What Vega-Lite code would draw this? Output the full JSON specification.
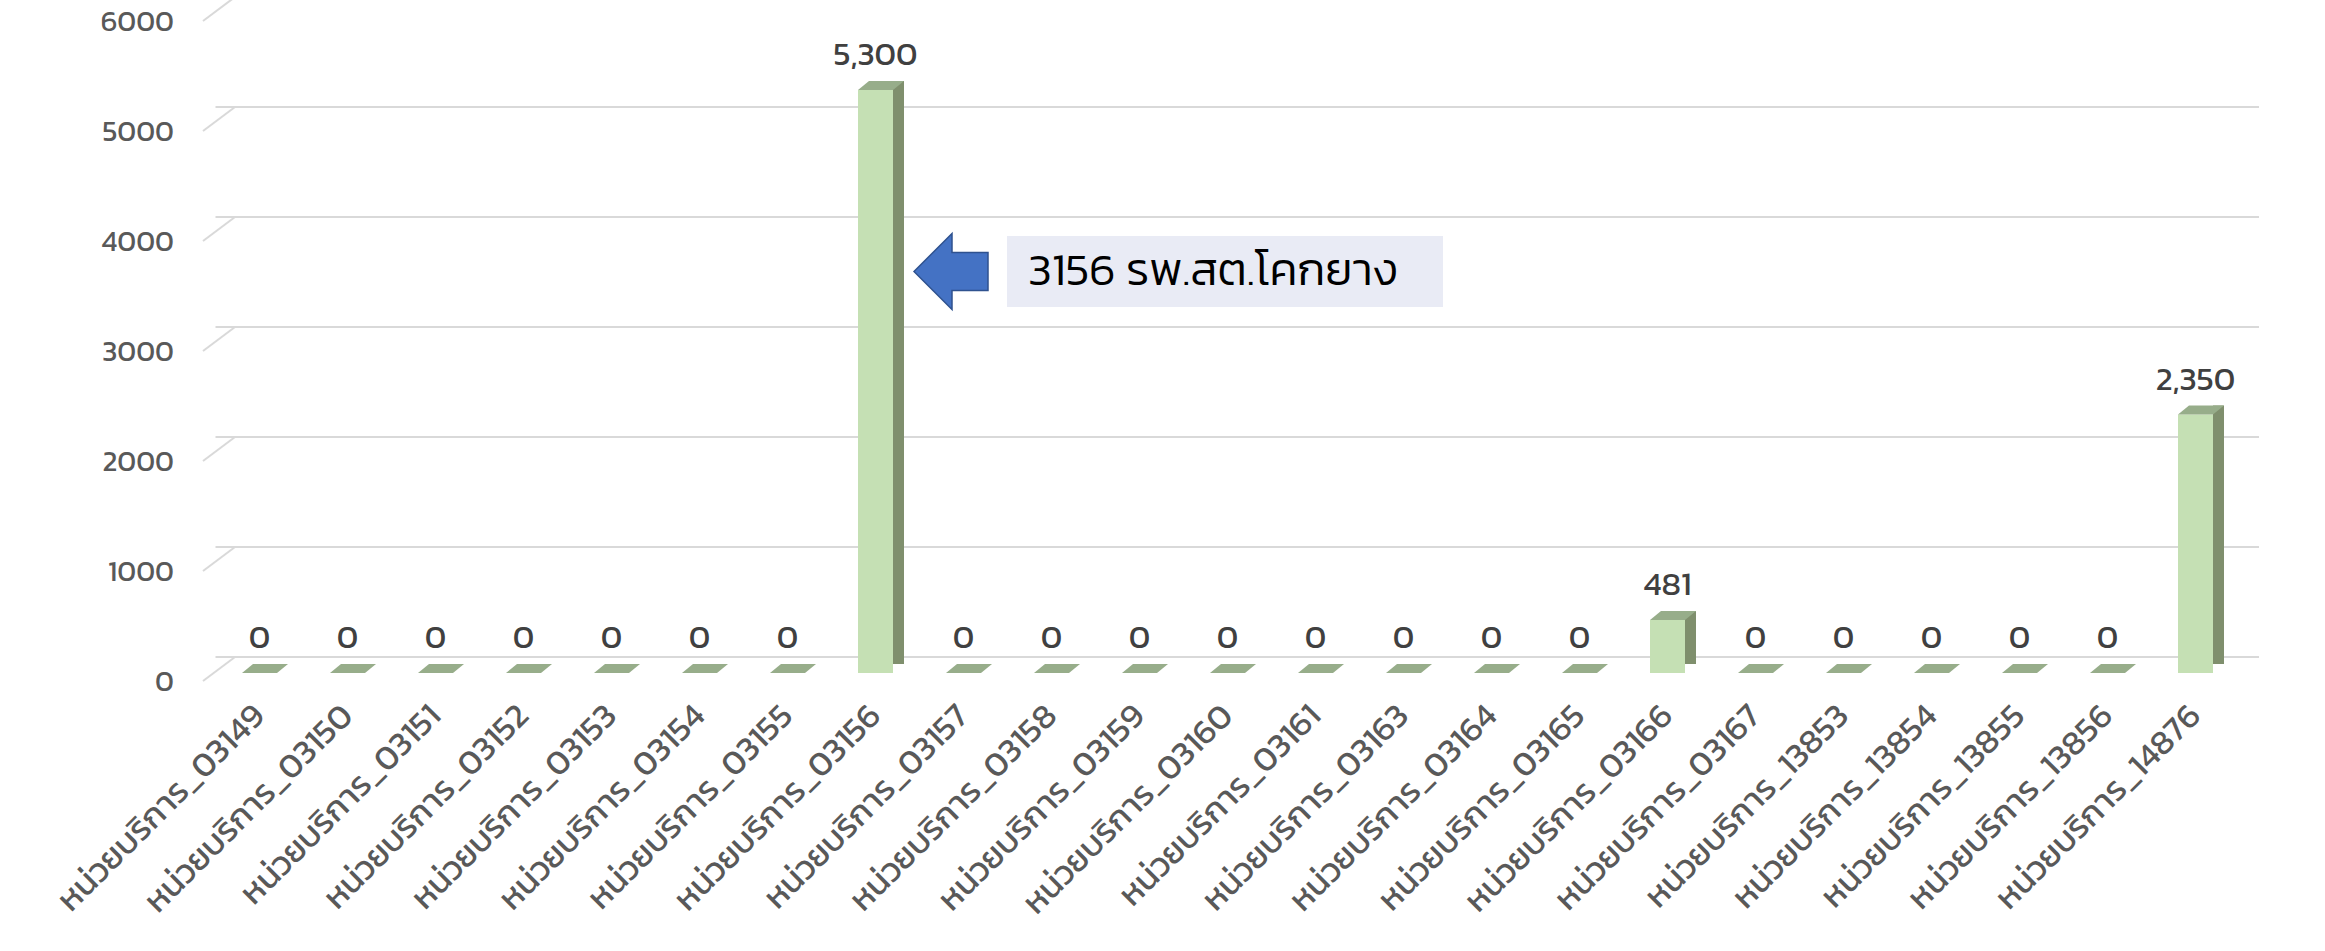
{
  "$schema": "https://vega.github.io/schema/vega-lite/v6.json",
  "width": 2024,
  "height": 660,
  "autosize": {"type": "none"},
  "padding": {"left": 215.5, "top": 13, "right": 85.5, "bottom": 278},
  "background": "#ffffff",
  "config": {
    "view": {"stroke": null},
    "font": "Kanit, Prompt, 'Noto Sans Thai', Loma, Garuda, 'Open Sans', sans-serif"
  },
  "datasets": {
    "bars": [
      {"unit": "หน่วยบริการ_03149", "value": 0},
      {"unit": "หน่วยบริการ_03150", "value": 0},
      {"unit": "หน่วยบริการ_03151", "value": 0},
      {"unit": "หน่วยบริการ_03152", "value": 0},
      {"unit": "หน่วยบริการ_03153", "value": 0},
      {"unit": "หน่วยบริการ_03154", "value": 0},
      {"unit": "หน่วยบริการ_03155", "value": 0},
      {"unit": "หน่วยบริการ_03156", "value": 5300},
      {"unit": "หน่วยบริการ_03157", "value": 0},
      {"unit": "หน่วยบริการ_03158", "value": 0},
      {"unit": "หน่วยบริการ_03159", "value": 0},
      {"unit": "หน่วยบริการ_03160", "value": 0},
      {"unit": "หน่วยบริการ_03161", "value": 0},
      {"unit": "หน่วยบริการ_03163", "value": 0},
      {"unit": "หน่วยบริการ_03164", "value": 0},
      {"unit": "หน่วยบริการ_03165", "value": 0},
      {"unit": "หน่วยบริการ_03166", "value": 481},
      {"unit": "หน่วยบริการ_03167", "value": 0},
      {"unit": "หน่วยบริการ_13853", "value": 0},
      {"unit": "หน่วยบริการ_13854", "value": 0},
      {"unit": "หน่วยบริการ_13855", "value": 0},
      {"unit": "หน่วยบริการ_13856", "value": 0},
      {"unit": "หน่วยบริการ_14876", "value": 2350}
    ],
    "grid": [
      {"g": 0}, {"g": 1000}, {"g": 2000}, {"g": 3000}, {"g": 4000}, {"g": 5000}, {"g": 6000}
    ],
    "note": [
      {"unit": "หน่วยบริการ_03156", "value": 3650, "label": "3156 รพ.สต.โคกยาง"}
    ]
  },
  "encoding": {
    "x": {
      "field": "unit",
      "type": "nominal",
      "sort": null,
      "scale": {
        "paddingInner": 0,
        "paddingOuter": 0,
        "domain": [
          "หน่วยบริการ_03149", "หน่วยบริการ_03150", "หน่วยบริการ_03151", "หน่วยบริการ_03152",
          "หน่วยบริการ_03153", "หน่วยบริการ_03154", "หน่วยบริการ_03155", "หน่วยบริการ_03156",
          "หน่วยบริการ_03157", "หน่วยบริการ_03158", "หน่วยบริการ_03159", "หน่วยบริการ_03160",
          "หน่วยบริการ_03161", "หน่วยบริการ_03163", "หน่วยบริการ_03164", "หน่วยบริการ_03165",
          "หน่วยบริการ_03166", "หน่วยบริการ_03167", "หน่วยบริการ_13853", "หน่วยบริการ_13854",
          "หน่วยบริการ_13855", "หน่วยบริการ_13856", "หน่วยบริการ_14876"
        ]
      },
      "axis": {
        "title": null,
        "domain": false,
        "ticks": false,
        "labelAngle": -45,
        "labelAlign": "right",
        "labelBaseline": "middle",
        "labelPadding": 37,
        "labelFontSize": 34,
        "labelColor": "#595959",
        "labelLimit": 800
      }
    },
    "y": {
      "field": "value",
      "type": "quantitative",
      "scale": {"domain": [0, 6000], "nice": false},
      "axis": {
        "title": null,
        "domain": false,
        "ticks": false,
        "grid": false,
        "values": [0, 1000, 2000, 3000, 4000, 5000, 6000],
        "format": "d",
        "labelOffset": 8,
        "labelPadding": 42,
        "labelFontSize": 29,
        "labelColor": "#595959"
      }
    }
  },
  "layer": [
    {
      "data": {"name": "grid"},
      "mark": {"type": "rule", "color": "#d9d9d9", "strokeWidth": 2, "xOffset": 19.5, "x2Offset": 21.5, "yOffset": -16},
      "encoding": {
        "x": null,
        "y": {"field": "g", "type": "quantitative"}
      }
    },
    {
      "data": {"name": "grid"},
      "mark": {"type": "rule", "color": "#d9d9d9", "strokeWidth": 2, "xOffset": -12.5, "x2Offset": 19.5, "yOffset": 8, "y2Offset": -16},
      "encoding": {
        "x": {"datum": "หน่วยบริการ_03149", "bandPosition": 0},
        "x2": {"datum": "หน่วยบริการ_03149", "bandPosition": 0},
        "y": {"field": "g", "type": "quantitative"},
        "y2": {"field": "g"}
      }
    },
    {
      "data": {"name": "bars"},
      "transform": [{"filter": "datum.value > 0"}],
      "mark": {"type": "bar", "width": 11, "xOffset": 23, "yOffset": -9, "color": "#7f8f6d"}
    },
    {
      "data": {"name": "bars"},
      "transform": [{"filter": "datum.value > 0"}],
      "mark": {"type": "point", "shape": "M17.5,0.5 L29,0.5 L29,-9 Z", "size": 4, "filled": true, "opacity": 1, "color": "#ffffff", "strokeWidth": 0},
      "encoding": {"y": {"datum": 0}}
    },
    {
      "data": {"name": "bars"},
      "mark": {"type": "bar", "width": 35, "color": "#c5e0b4"}
    },
    {
      "data": {"name": "bars"},
      "mark": {"type": "point", "shape": "M-17.5,0 L17.5,0 L28.5,-9 L-6.5,-9 Z", "size": 4, "filled": true, "opacity": 1, "color": "#97ad8a", "strokeWidth": 0}
    },
    {
      "data": {"name": "bars"},
      "mark": {"type": "text", "fontSize": 33, "color": "#404040", "baseline": "alphabetic", "align": "center", "yOffset": -25},
      "encoding": {"text": {"field": "value", "type": "quantitative", "format": ","}}
    },
    {
      "data": {"name": "note"},
      "mark": {"type": "point", "shape": "M131.5,-35.5 L567.5,-35.5 L567.5,35.5 L131.5,35.5 Z", "size": 4, "filled": true, "opacity": 1, "color": "#e9ebf5", "strokeWidth": 0}
    },
    {
      "data": {"name": "note"},
      "mark": {"type": "point", "shape": "M38.5,0 L76.5,-38 L76.5,-19 L112.5,-19 L112.5,19 L76.5,19 L76.5,38 Z", "size": 4, "filled": true, "opacity": 1, "fill": "#4472c4", "stroke": "#2f528f", "strokeWidth": 1.5}
    },
    {
      "data": {"name": "note"},
      "mark": {"type": "text", "fontSize": 46, "fontWeight": 300, "color": "#000000", "align": "left", "baseline": "alphabetic", "xOffset": 152.5, "yOffset": 13},
      "encoding": {"text": {"field": "label"}}
    }
  ]
}
